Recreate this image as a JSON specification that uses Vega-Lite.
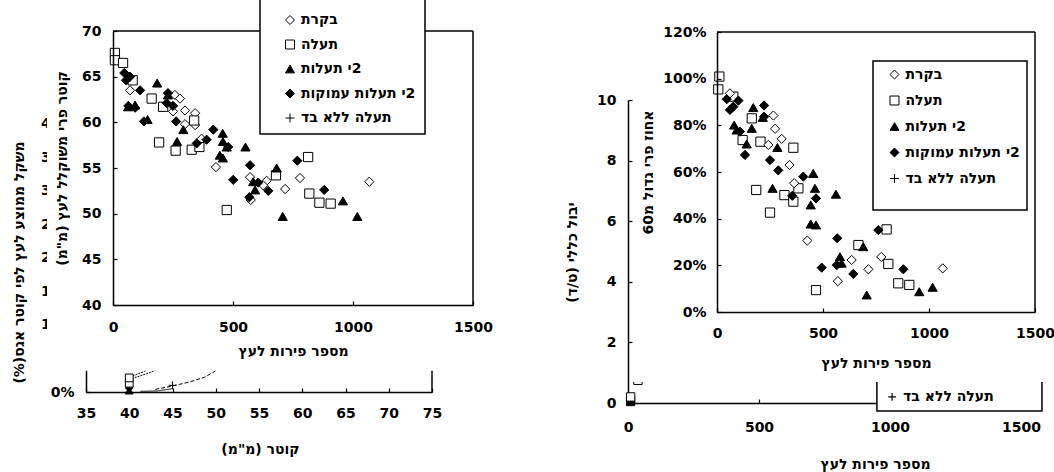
{
  "$schema": "https://vega.github.io/schema/vega-lite/v6.json",
  "width": 1054,
  "height": 472,
  "autosize": "none",
  "padding": 0,
  "background": "white",
  "config": {
    "view": {"stroke": null},
    "font": "DejaVu Sans",
    "axis": {
      "labelFont": "DejaVu Sans", "labelFontSize": 14, "labelFontWeight": "bold", "labelColor": "black",
      "titleFont": "DejaVu Sans", "titleFontSize": 14, "titleFontWeight": "bold", "titleColor": "black",
      "domainColor": "black", "domainWidth": 1.5, "tickColor": "black", "tickWidth": 1.2, "tickSize": -4,
      "grid": false, "labelFlush": false, "labelOverlap": false, "labelPadding": 15, "format": "d",
      "titleBaseline": "middle", "titleAlign": "center"
    },
    "legend": {
      "labelFont": "DejaVu Sans", "labelFontSize": 14, "labelFontWeight": "bold", "labelColor": "black",
      "symbolStrokeColor": "black", "symbolStrokeWidth": 1, "symbolSize": 80,
      "fillColor": "white", "strokeColor": "black", "strokeWidth": 1.5
    }
  },
  "datasets": {
    "diameter": [
      {"n": 71, "d": 63.5, "t": "בקרת"}, {"n": 258, "d": 63.0, "t": "בקרת"}, {"n": 279, "d": 62.6, "t": "בקרת"},
      {"n": 250, "d": 61.2, "t": "בקרת"}, {"n": 300, "d": 61.3, "t": "בקרת"}, {"n": 342, "d": 61.0, "t": "בקרת"},
      {"n": 300, "d": 59.8, "t": "בקרת"}, {"n": 342, "d": 59.7, "t": "בקרת"}, {"n": 369, "d": 58.2, "t": "בקרת"},
      {"n": 429, "d": 55.1, "t": "בקרת"}, {"n": 571, "d": 54.0, "t": "בקרת"}, {"n": 640, "d": 53.6, "t": "בקרת"},
      {"n": 626, "d": 53.1, "t": "בקרת"}, {"n": 574, "d": 51.5, "t": "בקרת"}, {"n": 717, "d": 52.7, "t": "בקרת"},
      {"n": 779, "d": 53.9, "t": "בקרת"}, {"n": 1068, "d": 53.5, "t": "בקרת"},
      {"n": 8, "d": 67.6, "t": "תעלה"}, {"n": 8, "d": 66.8, "t": "תעלה"}, {"n": 42, "d": 66.5, "t": "תעלה"},
      {"n": 82, "d": 64.6, "t": "תעלה"}, {"n": 161, "d": 62.6, "t": "תעלה"}, {"n": 209, "d": 61.7, "t": "תעלה"},
      {"n": 338, "d": 60.2, "t": "תעלה"}, {"n": 192, "d": 57.8, "t": "תעלה"}, {"n": 261, "d": 56.9, "t": "תעלה"},
      {"n": 328, "d": 57.0, "t": "תעלה"}, {"n": 360, "d": 57.3, "t": "תעלה"}, {"n": 474, "d": 50.4, "t": "תעלה"},
      {"n": 679, "d": 54.2, "t": "תעלה"}, {"n": 813, "d": 56.2, "t": "תעלה"}, {"n": 818, "d": 52.2, "t": "תעלה"},
      {"n": 860, "d": 51.2, "t": "תעלה"}, {"n": 907, "d": 51.1, "t": "תעלה"},
      {"n": 63, "d": 61.7, "t": "2י תעלות"}, {"n": 92, "d": 61.9, "t": "2י תעלות"}, {"n": 144, "d": 60.3, "t": "2י תעלות"},
      {"n": 184, "d": 64.3, "t": "2י תעלות"}, {"n": 229, "d": 63.0, "t": "2י תעלות"}, {"n": 267, "d": 57.9, "t": "2י תעלות"},
      {"n": 293, "d": 59.2, "t": "2י תעלות"}, {"n": 445, "d": 56.4, "t": "2י תעלות"}, {"n": 457, "d": 58.8, "t": "2י תעלות"},
      {"n": 458, "d": 57.9, "t": "2י תעלות"}, {"n": 458, "d": 56.1, "t": "2י תעלות"}, {"n": 474, "d": 57.3, "t": "2י תעלות"},
      {"n": 552, "d": 57.3, "t": "2י תעלות"}, {"n": 584, "d": 53.5, "t": "2י תעלות"}, {"n": 592, "d": 52.6, "t": "2י תעלות"},
      {"n": 682, "d": 55.0, "t": "2י תעלות"}, {"n": 707, "d": 49.7, "t": "2י תעלות"}, {"n": 958, "d": 51.4, "t": "2י תעלות"},
      {"n": 1018, "d": 49.7, "t": "2י תעלות"},
      {"n": 47, "d": 65.4, "t": "2י תעלות עמוקות"}, {"n": 54, "d": 64.6, "t": "2י תעלות עמוקות"}, {"n": 71, "d": 65.0, "t": "2י תעלות עמוקות"},
      {"n": 113, "d": 63.5, "t": "2י תעלות עמוקות"}, {"n": 64, "d": 61.8, "t": "2י תעלות עמוקות"}, {"n": 92, "d": 61.6, "t": "2י תעלות עמוקות"},
      {"n": 129, "d": 60.1, "t": "2י תעלות עמוקות"}, {"n": 224, "d": 62.1, "t": "2י תעלות עמוקות"}, {"n": 229, "d": 63.2, "t": "2י תעלות עמוקות"},
      {"n": 250, "d": 61.8, "t": "2י תעלות עמוקות"}, {"n": 263, "d": 60.1, "t": "2י תעלות עמוקות"}, {"n": 349, "d": 57.7, "t": "2י תעלות עמוקות"},
      {"n": 390, "d": 58.1, "t": "2י תעלות עמוקות"}, {"n": 418, "d": 59.2, "t": "2י תעלות עמוקות"}, {"n": 480, "d": 57.3, "t": "2י תעלות עמוקות"},
      {"n": 501, "d": 53.7, "t": "2י תעלות עמוקות"}, {"n": 571, "d": 55.3, "t": "2י תעלות עמוקות"}, {"n": 568, "d": 51.8, "t": "2י תעלות עמוקות"},
      {"n": 605, "d": 53.4, "t": "2י תעלות עמוקות"}, {"n": 647, "d": 52.5, "t": "2י תעלות עמוקות"}, {"n": 768, "d": 55.8, "t": "2י תעלות עמוקות"},
      {"n": 880, "d": 52.6, "t": "2י תעלות עמוקות"}
    ],
    "largeFruit": [
      {"n": 11, "p": 100.9, "t": "תעלה"}, {"n": 6, "p": 95.4, "t": "תעלה"}, {"n": 77, "p": 92.3, "t": "תעלה"},
      {"n": 164, "p": 83.0, "t": "תעלה"}, {"n": 121, "p": 73.7, "t": "תעלה"}, {"n": 205, "p": 73.0, "t": "תעלה"},
      {"n": 360, "p": 70.4, "t": "תעלה"}, {"n": 185, "p": 52.3, "t": "תעלה"}, {"n": 250, "p": 42.6, "t": "תעלה"},
      {"n": 318, "p": 50.1, "t": "תעלה"}, {"n": 360, "p": 47.3, "t": "תעלה"}, {"n": 384, "p": 53.0, "t": "תעלה"},
      {"n": 800, "p": 35.4, "t": "תעלה"}, {"n": 467, "p": 9.4, "t": "תעלה"}, {"n": 667, "p": 28.7, "t": "תעלה"},
      {"n": 808, "p": 20.6, "t": "תעלה"}, {"n": 855, "p": 12.3, "t": "תעלה"}, {"n": 907, "p": 11.6, "t": "תעלה"},
      {"n": 61, "p": 93.7, "t": "בקרת"}, {"n": 266, "p": 84.2, "t": "בקרת"}, {"n": 274, "p": 78.5, "t": "בקרת"},
      {"n": 305, "p": 74.2, "t": "בקרת"}, {"n": 242, "p": 71.6, "t": "בקרת"}, {"n": 342, "p": 63.0, "t": "בקרת"},
      {"n": 364, "p": 55.2, "t": "בקרת"}, {"n": 426, "p": 30.6, "t": "בקרת"}, {"n": 570, "p": 13.2, "t": "בקרת"},
      {"n": 635, "p": 22.3, "t": "בקרת"}, {"n": 714, "p": 18.3, "t": "בקרת"}, {"n": 775, "p": 23.6, "t": "בקרת"},
      {"n": 1065, "p": 18.7, "t": "בקרת"},
      {"n": 171, "p": 87.6, "t": "2י תעלות"}, {"n": 81, "p": 80.1, "t": "2י תעלות"}, {"n": 93, "p": 78.0, "t": "2י תעלות"},
      {"n": 164, "p": 78.7, "t": "2י תעלות"}, {"n": 140, "p": 72.0, "t": "2י תעלות"}, {"n": 216, "p": 83.4, "t": "2י תעלות"},
      {"n": 285, "p": 70.5, "t": "2י תעלות"}, {"n": 262, "p": 53.0, "t": "2י תעלות"}, {"n": 454, "p": 59.4, "t": "2י תעלות"},
      {"n": 462, "p": 53.0, "t": "2י תעלות"}, {"n": 442, "p": 45.9, "t": "2י תעלות"}, {"n": 442, "p": 37.7, "t": "2י תעלות"},
      {"n": 467, "p": 37.3, "t": "2י תעלות"}, {"n": 561, "p": 50.5, "t": "2י תעלות"}, {"n": 580, "p": 23.7, "t": "2י תעלות"},
      {"n": 588, "p": 20.9, "t": "2י תעלות"}, {"n": 690, "p": 28.0, "t": "2י תעלות"}, {"n": 706, "p": 7.3, "t": "2י תעלות"},
      {"n": 954, "p": 8.7, "t": "2י תעלות"}, {"n": 1017, "p": 10.6, "t": "2י תעלות"},
      {"n": 46, "p": 91.2, "t": "2י תעלות עמוקות"}, {"n": 61, "p": 86.6, "t": "2י תעלות עמוקות"}, {"n": 77, "p": 88.0, "t": "2י תעלות עמוקות"},
      {"n": 101, "p": 90.6, "t": "2י תעלות עמוקות"}, {"n": 222, "p": 88.5, "t": "2י תעלות עמוקות"}, {"n": 222, "p": 83.7, "t": "2י תעלות עמוקות"},
      {"n": 108, "p": 77.3, "t": "2י תעלות עמוקות"}, {"n": 132, "p": 67.3, "t": "2י תעלות עמוקות"}, {"n": 250, "p": 65.1, "t": "2י תעלות עמוקות"},
      {"n": 289, "p": 60.7, "t": "2י תעלות עמוקות"}, {"n": 407, "p": 58.0, "t": "2י תעלות עמוקות"}, {"n": 467, "p": 48.7, "t": "2י תעלות עמוקות"},
      {"n": 355, "p": 49.8, "t": "2י תעלות עמוקות"}, {"n": 567, "p": 31.6, "t": "2י תעלות עמוקות"}, {"n": 761, "p": 35.1, "t": "2י תעלות עמוקות"},
      {"n": 494, "p": 19.0, "t": "2י תעלות עמוקות"}, {"n": 565, "p": 20.1, "t": "2י תעלות עמוקות"}, {"n": 643, "p": 16.3, "t": "2י תעלות עמוקות"},
      {"n": 879, "p": 18.3, "t": "2י תעלות עמוקות"}
    ],
    "weightCurves": [
      {"d": 43.0, "w": 0.4, "t": "תעלה ללא בד"}, {"d": 45.0, "w": 0.9, "t": "תעלה ללא בד"}, {"d": 47.0, "w": 1.5, "t": "תעלה ללא בד"},
      {"d": 48.7, "w": 2.2, "t": "תעלה ללא בד"}, {"d": 49.8, "w": 3.0, "t": "תעלה ללא בד"}, {"d": 50.6, "w": 3.8, "t": "תעלה ללא בד"},
      {"d": 41.3, "w": 0.1, "t": "בקרת"}, {"d": 43.2, "w": 0.15, "t": "בקרת"}, {"d": 45.0, "w": 0.5, "t": "בקרת"},
      {"d": 40.3, "w": 2.0, "t": "תעלה"}, {"d": 42.2, "w": 2.8, "t": "תעלה"}, {"d": 43.5, "w": 3.5, "t": "תעלה"},
      {"d": 40.4, "w": 2.4, "t": "2י תעלות"}, {"d": 41.6, "w": 3.0, "t": "2י תעלות"}, {"d": 42.6, "w": 3.6, "t": "2י תעלות"}
    ],
    "weightPoints": [
      {"d": 40, "w": 0.2, "t": "2י תעלות"}, {"d": 40, "w": 0.6, "t": "2י תעלות עמוקות"},
      {"d": 40, "w": 1.3, "t": "תעלה"}, {"d": 40, "w": 2.1, "t": "תעלה"}, {"d": 45, "w": 1.0, "t": "תעלה ללא בד"}
    ],
    "yieldPoints": [
      {"n": 10, "y": 0.05, "t": "2י תעלות עמוקות"}, {"n": 10, "y": 0.2, "t": "תעלה"}, {"n": 38, "y": 0.75, "t": "תעלה"}
    ]
  },
  "layer": [
    {
      "layer": [
        {
          "data": {"name": "weightCurves"},
          "mark": {"type": "line", "color": "black", "strokeWidth": 1},
          "encoding": {
            "x": {"field": "d", "type": "quantitative",
              "scale": {"domain": [35, 75], "range": [86, 432], "nice": false, "zero": false},
              "axis": {"orient": "bottom", "offset": -80, "zindex": 0, "values": [35, 40, 45, 50, 55, 60, 65, 70, 75],
                "labelPadding": 18, "title": "‏קוטר (מ\"מ)‏", "titleX": 260, "titleY": 57}},
            "y": {"field": "w", "type": "quantitative",
              "scale": {"domain": [0, 40], "range": [392, 123.5], "nice": false, "zero": false},
              "axis": {"orient": "left", "offset": -86, "zindex": 0, "values": [0, 5, 10, 15, 20, 25, 30, 35, 40],
                "labelExpr": "datum.value + '%'", "labelPadding": 16,
                "title": "‏משקל ממוצע לעץ לפי קוטר אגס(%)‏", "titleX": -67, "titleY": 262}},
            "detail": {"field": "t", "type": "nominal"},
            "strokeDash": {"field": "t", "type": "nominal", "legend": null,
              "scale": {"domain": ["תעלה ללא בד", "בקרת", "תעלה", "2י תעלות"], "range": [[4, 2], [1, 0], [2, 1], [2, 1]]}}
          }
        },
        {
          "data": {"name": "weightPoints"},
          "mark": {"type": "point", "stroke": "black", "strokeWidth": 1, "size": 60, "opacity": 1, "fillOpacity": 1},
          "encoding": {
            "x": {"field": "d", "type": "quantitative"},
            "y": {"field": "w", "type": "quantitative"},
            "shape": {"field": "t", "type": "nominal", "legend": null,
              "scale": {"domain": ["בקרת", "תעלה", "2י תעלות", "2י תעלות עמוקות", "תעלה ללא בד"],
                "range": ["diamond", "square", "triangle-up", "diamond", "M-1,0L1,0M0,-1L0,1"]}},
            "fill": {"field": "t", "type": "nominal", "legend": null,
              "scale": {"domain": ["בקרת", "תעלה", "2י תעלות", "2י תעלות עמוקות", "תעלה ללא בד"],
                "range": ["white", "white", "black", "black", "white"]}}
          }
        },
        {
          "data": {"values": [{}]},
          "mark": {"type": "rule", "color": "black", "strokeWidth": 1.5},
          "encoding": {
            "x": {"datum": 75, "type": "quantitative"},
            "y": {"datum": 0, "type": "quantitative"},
            "y2": {"datum": 40}
          }
        }
      ]
    },
    {
      "layer": [
        {
          "data": {"name": "yieldPoints"},
          "mark": {"type": "point", "stroke": "black", "strokeWidth": 1, "size": 70, "opacity": 1, "fillOpacity": 1},
          "encoding": {
            "x": {"field": "n", "type": "quantitative",
              "scale": {"domain": [0, 1500], "range": [628, 1021], "nice": false, "zero": false},
              "axis": {"orient": "bottom", "offset": -69, "zindex": 0, "values": [0, 500, 1000, 1500],
                "labelPadding": 21, "title": "מספר פירות לעץ", "titleX": 875, "titleY": 61}},
            "y": {"field": "y", "type": "quantitative",
              "scale": {"domain": [0, 10], "range": [403, 100], "nice": false, "zero": false},
              "axis": {"orient": "left", "offset": -628, "zindex": 0, "values": [0, 2, 4, 6, 8, 10],
                "labelPadding": 16, "title": "‏יבול כללי (ט/ד)‏", "titleX": -56, "titleY": 252}},
            "shape": {"field": "t", "type": "nominal", "legend": null,
              "scale": {"domain": ["בקרת", "תעלה", "2י תעלות", "2י תעלות עמוקות", "תעלה ללא בד"],
                "range": ["diamond", "square", "triangle-up", "square", "M-1,0L1,0M0,-1L0,1"]}},
            "fill": {"field": "t", "type": "nominal", "legend": null,
              "scale": {"domain": ["בקרת", "תעלה", "2י תעלות", "2י תעלות עמוקות", "תעלה ללא בד"],
                "range": ["white", "white", "black", "black", "white"]}}
          }
        },
        {
          "data": {"values": [{}]},
          "mark": {"type": "rect", "fill": "white", "stroke": "black", "strokeWidth": 1.5},
          "encoding": {
            "x": {"datum": 950, "type": "quantitative"},
            "x2": {"datum": 1580},
            "y": {"datum": -0.26, "type": "quantitative"},
            "y2": {"datum": 1.1}
          }
        },
        {
          "data": {"values": [{}]},
          "mark": {"type": "point", "shape": "M-1,0L1,0M0,-1L0,1", "stroke": "black", "strokeWidth": 1.2, "size": 60, "opacity": 1},
          "encoding": {
            "x": {"datum": 1008, "type": "quantitative"},
            "y": {"datum": 0.2, "type": "quantitative"}
          }
        },
        {
          "data": {"values": [{}]},
          "mark": {"type": "text", "text": "‏תעלה ללא בד", "align": "left", "baseline": "middle",
            "font": "DejaVu Sans", "fontSize": 14, "fontWeight": "bold", "color": "black"},
          "encoding": {
            "x": {"datum": 1050, "type": "quantitative"},
            "y": {"datum": 0.2, "type": "quantitative"}
          }
        }
      ]
    },
    {
      "layer": [
        {
          "data": {"values": [{}]},
          "mark": {"type": "rect", "fill": "white"},
          "encoding": {
            "x": {"datum": -275, "type": "quantitative"},
            "x2": {"datum": 1612},
            "y": {"datum": 73.4, "type": "quantitative"},
            "y2": {"datum": 32.8}
          }
        },
        {
          "data": {"values": [{}]},
          "mark": {"type": "rule", "color": "black", "strokeWidth": 1.5},
          "encoding": {
            "x": {"datum": 0, "type": "quantitative"},
            "x2": {"datum": 1500},
            "y": {"datum": 70, "type": "quantitative"}
          }
        },
        {
          "data": {"values": [{}]},
          "mark": {"type": "rule", "color": "black", "strokeWidth": 1.5},
          "encoding": {
            "x": {"datum": 1500, "type": "quantitative"},
            "y": {"datum": 40, "type": "quantitative"},
            "y2": {"datum": 70}
          }
        },
        {
          "data": {"name": "diameter"},
          "mark": {"type": "point", "strokeWidth": 1, "size": 85, "opacity": 1, "fillOpacity": 1, "strokeOpacity": 1},
          "encoding": {
            "x": {"field": "n", "type": "quantitative",
              "scale": {"domain": [0, 1500], "range": [113, 473], "nice": false, "zero": false},
              "axis": {"orient": "bottom", "offset": -167, "zindex": 1, "values": [0, 500, 1000, 1500],
                "labelPadding": 19, "title": "מספר פירות לעץ", "titleX": 293, "titleY": 46}},
            "y": {"field": "d", "type": "quantitative",
              "scale": {"domain": [40, 70], "range": [305, 31], "nice": false, "zero": false},
              "axis": {"orient": "left", "offset": -113, "zindex": 1, "values": [40, 45, 50, 55, 60, 65, 70],
                "labelPadding": 16, "title": "‏קוטר פרי משוקלל לעץ (מ\"מ)‏", "titleX": -51, "titleY": 168}},
            "shape": {"field": "t", "type": "nominal",
              "scale": {"domain": ["בקרת", "תעלה", "2י תעלות", "2י תעלות עמוקות", "תעלה ללא בד"],
                "range": ["diamond", "square", "triangle-up", "diamond", "M-1,0L1,0M0,-1L0,1"]},
              "legend": {"orient": "none", "legendX": 260, "legendY": -18, "title": " ",
                "titleFontSize": 18, "titlePadding": 4, "padding": 9, "rowPadding": 10.5,
                "symbolOffset": 14, "labelOffset": 4,
                "labelExpr": "'‏' + datum.label + '\u00a0\u00a0\u00a0\u00a0\u00a0\u00a0\u00a0'"}},
            "fill": {"field": "t", "type": "nominal",
              "scale": {"domain": ["בקרת", "תעלה", "2י תעלות", "2י תעלות עמוקות", "תעלה ללא בד"],
                "range": ["white", "white", "black", "black", "white"]},
              "legend": {"orient": "none", "legendX": 260, "legendY": -18, "title": " ",
                "titleFontSize": 18, "titlePadding": 4, "padding": 9, "rowPadding": 10.5,
                "symbolOffset": 14, "labelOffset": 4,
                "labelExpr": "'‏' + datum.label + '\u00a0\u00a0\u00a0\u00a0\u00a0\u00a0\u00a0'"}},
            "stroke": {"field": "t", "type": "nominal",
              "scale": {"domain": ["בקרת", "תעלה", "2י תעלות", "2י תעלות עמוקות", "תעלה ללא בד"],
                "range": ["black", "black", "black", "black", "black"]},
              "legend": {"orient": "none", "legendX": 260, "legendY": -18, "title": " ",
                "titleFontSize": 18, "titlePadding": 4, "padding": 9, "rowPadding": 10.5,
                "symbolOffset": 14, "labelOffset": 4,
                "labelExpr": "'‏' + datum.label + '\u00a0\u00a0\u00a0\u00a0\u00a0\u00a0\u00a0'"}}
          }
        }
      ]
    },
    {
      "layer": [
        {
          "data": {"values": [{}]},
          "mark": {"type": "rect", "fill": "white"},
          "encoding": {
            "x": {"datum": -396, "type": "quantitative"},
            "x2": {"datum": 1600},
            "y": {"datum": 134, "type": "quantitative"},
            "y2": {"datum": -30}
          }
        },
        {
          "data": {"values": [{}]},
          "mark": {"type": "rule", "color": "black", "strokeWidth": 1.5},
          "encoding": {
            "x": {"datum": 0, "type": "quantitative"},
            "x2": {"datum": 1500},
            "y": {"datum": 120, "type": "quantitative"}
          }
        },
        {
          "data": {"values": [{}]},
          "mark": {"type": "rule", "color": "black", "strokeWidth": 1.5},
          "encoding": {
            "x": {"datum": 1500, "type": "quantitative"},
            "y": {"datum": 0, "type": "quantitative"},
            "y2": {"datum": 120}
          }
        },
        {
          "data": {"name": "largeFruit"},
          "mark": {"type": "point", "strokeWidth": 1, "size": 85, "opacity": 1, "fillOpacity": 1, "strokeOpacity": 1},
          "encoding": {
            "x": {"field": "n", "type": "quantitative",
              "scale": {"domain": [0, 1500], "range": [717, 1035], "nice": false, "zero": false},
              "axis": {"orient": "bottom", "offset": -160, "zindex": 1, "values": [0, 500, 1000, 1500],
                "labelPadding": 18, "title": "מספר פירות לעץ", "titleX": 876, "titleY": 51}},
            "y": {"field": "p", "type": "quantitative",
              "scale": {"domain": [0, 120], "range": [312, 32], "nice": false, "zero": false},
              "axis": {"orient": "left", "offset": -717, "zindex": 1, "values": [0, 20, 40, 60, 80, 100, 120],
                "labelExpr": "datum.value + '%'", "labelPadding": 15,
                "title": "‏אחוז פרי גדול מ60‏", "titleX": -69, "titleY": 172}},
            "shape": {"field": "t", "type": "nominal",
              "scale": {"domain": ["בקרת", "תעלה", "2י תעלות", "2י תעלות עמוקות", "תעלה ללא בד"],
                "range": ["diamond", "square", "triangle-up", "diamond", "M-1,0L1,0M0,-1L0,1"]},
              "legend": {"orient": "none", "legendX": 873, "legendY": 61, "title": " ", "titleOrient": "bottom",
                "titleFontSize": 14, "titlePadding": 4, "padding": 6.5, "rowPadding": 12,
                "symbolOffset": 8, "labelOffset": 4, "labelExpr": "'‏' + datum.label"}},
            "fill": {"field": "t", "type": "nominal",
              "scale": {"domain": ["בקרת", "תעלה", "2י תעלות", "2י תעלות עמוקות", "תעלה ללא בד"],
                "range": ["white", "white", "black", "black", "white"]},
              "legend": {"orient": "none", "legendX": 873, "legendY": 61, "title": " ", "titleOrient": "bottom",
                "titleFontSize": 14, "titlePadding": 4, "padding": 6.5, "rowPadding": 12,
                "symbolOffset": 8, "labelOffset": 4, "labelExpr": "'‏' + datum.label"}},
            "stroke": {"field": "t", "type": "nominal",
              "scale": {"domain": ["בקרת", "תעלה", "2י תעלות", "2י תעלות עמוקות", "תעלה ללא בד"],
                "range": ["black", "black", "black", "black", "black"]},
              "legend": {"orient": "none", "legendX": 873, "legendY": 61, "title": " ", "titleOrient": "bottom",
                "titleFontSize": 14, "titlePadding": 4, "padding": 6.5, "rowPadding": 12,
                "symbolOffset": 8, "labelOffset": 4, "labelExpr": "'‏' + datum.label"}}
          }
        }
      ]
    }
  ],
  "resolve": {
    "scale": {"x": "independent", "y": "independent", "shape": "independent", "fill": "independent", "stroke": "independent", "strokeDash": "independent"},
    "axis": {"x": "independent", "y": "independent"},
    "legend": {"shape": "independent", "fill": "independent", "stroke": "independent"}
  }
}
